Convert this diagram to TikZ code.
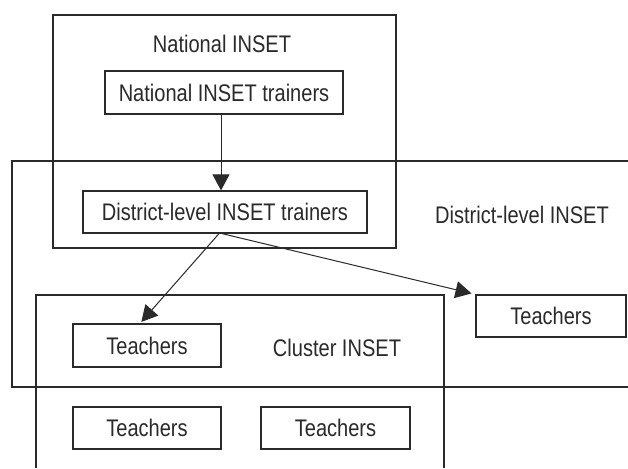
\documentclass[tikz,border=0pt]{standalone}
\usepackage{fontspec}
\usepackage{graphicx}
\setmainfont{Liberation Sans}
\usetikzlibrary{arrows.meta}
\definecolor{ink}{HTML}{2A2A2A}
% condensed label text
\newcommand\cond[1]{\scalebox{0.835}[1]{#1}}
\tikzset{
  frame/.style={draw=ink, line width=1.2pt},
  stepbox/.style={draw=ink, line width=1.2pt, inner sep=0pt, text=ink,
    font=\fontsize{24}{28}\selectfont},
  caption/.style={inner sep=0pt, text=ink, font=\fontsize{24}{28}\selectfont},
  flow/.style={draw=ink, line width=1pt, -{Triangle[width=17pt,length=16pt]}},
}
\begin{document}
\begin{tikzpicture}[x=1pt,y=-1pt]
\useasboundingbox (0,0) rectangle (628,468);
\fill[white] (0,0) rectangle (628,468);

% enclosing levels
\draw[frame] (53,15) rectangle (396,248);
\draw[frame] (628,161) -- (12,161) -- (12,387) -- (628,387);
\draw[frame] (36,468) -- (36,295) -- (444,295) -- (444,468);

% level captions
\node[caption] (natl) at (222,44) {\cond{National INSET}};
\node[caption] (dist) at (522,215) {\cond{District-level INSET}};
\node[caption] (clus) at (337,348) {\cond{Cluster INSET}};

% trainers and teachers
\node[stepbox, minimum width=238pt, minimum height=43pt] (ntr) at (224,92.5) {\cond{National INSET trainers}};
\node[stepbox, minimum width=284pt, minimum height=42pt] (dtr) at (225,212) {\cond{District-level INSET trainers}};
\node[stepbox, minimum width=148pt, minimum height=43pt] (tA) at (147,345.5) {\cond{Teachers}};
\node[stepbox, minimum width=150pt, minimum height=42pt] (tR) at (551,316) {\cond{Teachers}};
\node[stepbox, minimum width=148pt, minimum height=42pt] (tB) at (147,428) {\cond{Teachers}};
\node[stepbox, minimum width=149pt, minimum height=42pt] (tC) at (335.5,428) {\cond{Teachers}};

% cascade
\draw[flow] ([xshift=-3pt]ntr.south) -- ([xshift=-4pt]dtr.north);
\draw[flow, shorten >=2pt] ([xshift=-6pt]dtr.south) -- ([xshift=-7pt]tA.north);
\draw[flow, shorten >=4pt] ([xshift=-3pt]dtr.south) -- (tR.north west);
\end{tikzpicture}
\end{document}
